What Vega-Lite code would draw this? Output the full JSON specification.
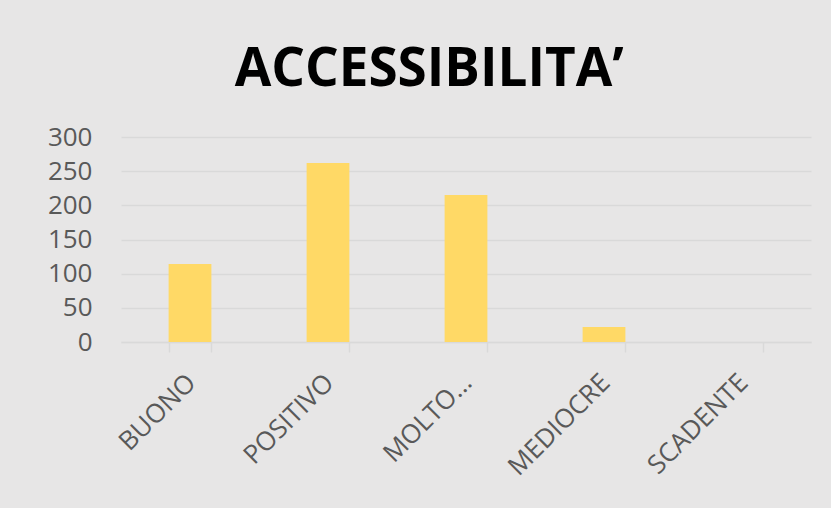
{
  "$schema": "https://vega.github.io/schema/vega-lite/v6.json",
  "width": 690,
  "height": 205,
  "autosize": {"type": "none"},
  "padding": {"left": 121, "top": 137, "right": 20, "bottom": 166},
  "background": "#e7e6e6",
  "title": {
    "text": "ACCESSIBILITA’",
    "font": "Open Sans",
    "fontSize": 53,
    "fontWeight": "bold",
    "color": "#000000",
    "anchor": "middle",
    "frame": "bounds",
    "baseline": "alphabetic",
    "offset": -15
  },
  "data": {
    "values": [
      {"giudizio": "BUONO", "valore": 114},
      {"giudizio": "POSITIVO", "valore": 262},
      {"giudizio": "MOLTO...", "valore": 215},
      {"giudizio": "MEDIOCRE", "valore": 22},
      {"giudizio": "SCADENTE", "valore": 0}
    ]
  },
  "mark": {"type": "bar", "color": "#ffd966"},
  "encoding": {
    "x": {
      "field": "giudizio",
      "type": "nominal",
      "sort": null,
      "scale": {"paddingInner": 0.69, "paddingOuter": 0.345},
      "axis": {
        "title": null,
        "labelAngle": -45,
        "labelAlign": "right",
        "labelBaseline": "top",
        "labelFont": "Open Sans",
        "labelFontSize": 26,
        "labelColor": "#595959",
        "labelPadding": 17,
        "labelOffset": -8,
        "domainColor": "#d9d9d9",
        "domainWidth": 1.5,
        "tickColor": "#d9d9d9",
        "tickSize": 10,
        "tickWidth": 1.5,
        "tickBand": "extent"
      }
    },
    "y": {
      "field": "valore",
      "type": "quantitative",
      "scale": {"domain": [0, 300]},
      "axis": {
        "title": null,
        "values": [0, 50, 100, 150, 200, 250, 300],
        "domain": false,
        "ticks": false,
        "labelPadding": 29,
        "labelFont": "Open Sans",
        "labelFontSize": 26,
        "labelColor": "#595959",
        "gridColor": "#d9d9d9",
        "gridWidth": 1.3
      }
    }
  },
  "config": {"view": {"stroke": null}}
}
